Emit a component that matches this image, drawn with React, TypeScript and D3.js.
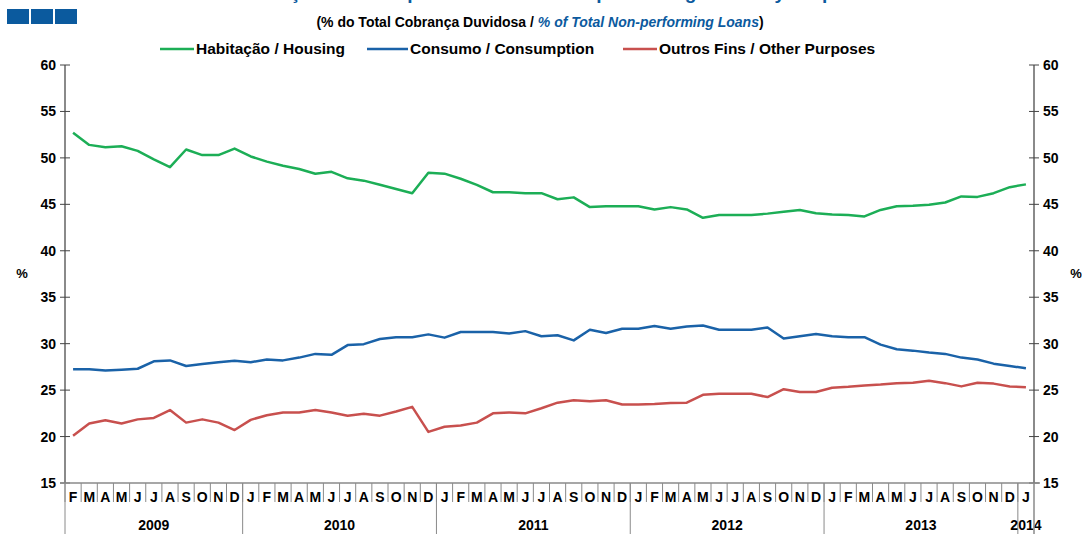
import * as d3 from "d3"

// month labels Feb 2009 .. Jan 2014
const months = [
  "F", "M", "A", "M", "J", "J", "A", "S", "O", "N", "D",
  "J", "F", "M", "A", "M", "J", "J", "A", "S", "O", "N", "D",
  "J", "F", "M", "A", "M", "J", "J", "A", "S", "O", "N", "D",
  "J", "F", "M", "A", "M", "J", "J", "A", "S", "O", "N", "D",
  "J", "F", "M", "A", "M", "J", "J", "A", "S", "O", "N", "D",
  "J",
]

// year groups: label, first index, last index
const years: [string, number, number][] = [
  ["2009", 0, 10],
  ["2010", 11, 22],
  ["2011", 23, 34],
  ["2012", 35, 46],
  ["2013", 47, 58],
  ["2014", 59, 59],
]

const housing = [
  52.7, 51.4, 51.15, 51.25, 50.75, 49.85, 49.0, 50.9, 50.3, 50.3, 51.0,
  50.15, 49.6, 49.15, 48.8, 48.3, 48.5, 47.8, 47.55, 47.1, 46.65, 46.2,
  48.4, 48.3, 47.75, 47.1, 46.3, 46.3, 46.2, 46.2, 45.55, 45.75, 44.7, 44.8,
  44.8, 44.8, 44.45, 44.7, 44.45, 43.55, 43.85, 43.85, 43.85, 44.0, 44.2,
  44.4, 44.05, 43.9, 43.85, 43.7, 44.4, 44.8, 44.85, 44.95, 45.2, 45.85,
  45.8, 46.2, 46.85, 47.15,
]

const consumption = [
  27.25, 27.25, 27.1, 27.2, 27.3, 28.1, 28.2, 27.6, 27.8, 28.0, 28.15,
  28.0, 28.3, 28.2, 28.5, 28.9, 28.8, 29.85, 29.95, 30.5, 30.7, 30.7,
  31.0, 30.65, 31.25, 31.25, 31.25, 31.1, 31.35, 30.8, 30.9, 30.35, 31.5,
  31.15, 31.6, 31.6, 31.9, 31.6, 31.85, 31.95, 31.5, 31.5, 31.5, 31.75,
  30.55, 30.8, 31.05, 30.8, 30.7, 30.7, 29.9, 29.4, 29.25, 29.05, 28.9,
  28.5, 28.3, 27.85, 27.6, 27.35,
]

const otherPurposes = [
  20.1, 21.4, 21.75, 21.4, 21.85, 22.0, 22.85, 21.5, 21.85, 21.5, 20.7,
  21.8, 22.3, 22.6, 22.6, 22.85, 22.6, 22.25, 22.45, 22.25, 22.7, 23.2,
  20.5, 21.05, 21.2, 21.5, 22.5, 22.6, 22.5, 23.05, 23.65, 23.9, 23.8,
  23.9, 23.45, 23.45, 23.5, 23.6, 23.65, 24.5, 24.6, 24.6, 24.6, 24.25,
  25.1, 24.8, 24.8, 25.25, 25.35, 25.5, 25.6, 25.75, 25.8, 26.0, 25.75,
  25.4, 25.8, 25.7, 25.4, 25.3,
]

const yTicks = [15, 20, 25, 30, 35, 40, 45, 50, 55, 60]

const series = [
  { name: "Habitação / Housing", values: housing, color: "#1cae56" },
  { name: "Consumo / Consumption", values: consumption, color: "#1a62a8" },
  { name: "Outros Fins / Other Purposes", values: otherPurposes, color: "#c8504e" },
]

const font = "'Liberation Sans', Arial, sans-serif"

export default function App() {
  const width = 1082
  const height = 534
  const left = 65
  const right = 1034
  const top = 65
  const bottom = 483

  const x = d3.scaleBand<number>().domain(d3.range(months.length)).range([left, right])
  const y = d3.scaleLinear().domain([15, 60]).range([bottom, top])
  const line = d3
    .line<number>()
    .x((_, i) => x(i)! + x.bandwidth() / 2)
    .y((d) => y(d))

  const legendPos = [
    { lx: 160, lw: 34 },
    { lx: 367, lw: 41 },
    { lx: 623, lw: 34 },
  ]

  return (
    <svg width={width} height={height} style={{ position: "absolute", left: 0, top: 0 }} fontFamily={font}>
      <rect width={width} height={height} fill="#fff" />

      {/* logo */}
      {[7, 31, 55].map((lx) => (
        <rect key={lx} x={lx} y={9} width={22} height={15} fill="#0b5a9e" />
      ))}

      {/* title, cut off at the top edge as in the source */}
      <text x={545} y={-1} textAnchor="middle" fontSize={19} fontWeight="bold" fill="#0b5a9e">
        Cobrança Duvidosa por Finalidade / Non-performing Loans by Purpose
      </text>

      {/* subtitle */}
      <text x={540} y={27} textAnchor="middle" fontSize={14} fontWeight="bold" fill="#000">
        (% do Total Cobrança Duvidosa  /{" "}
        <tspan fill="#0b5a9e" fontStyle="italic">% of Total Non-performing Loans</tspan>)
      </text>

      {/* legend */}
      {series.map((s, i) => (
        <g key={s.name}>
          <line
            x1={legendPos[i].lx}
            x2={legendPos[i].lx + legendPos[i].lw}
            y1={49}
            y2={49}
            stroke={s.color}
            strokeWidth={2.5}
          />
          <text x={legendPos[i].lx + legendPos[i].lw + 2} y={54} fontSize={15.5} fontWeight="bold" fill="#000">
            {s.name}
          </text>
        </g>
      ))}

      {/* y axes */}
      {[left, right].map((ax) => (
        <g key={ax}>
          <line x1={ax} x2={ax} y1={top} y2={bottom} stroke="#8a8a8a" strokeWidth={2} />
          {yTicks.map((t) => (
            <line key={t} x1={ax - 5} x2={ax + 5} y1={y(t)} y2={y(t)} stroke="#444" strokeWidth={1} />
          ))}
        </g>
      ))}
      {yTicks.map((t) => (
        <g key={t} fontSize={14} fontWeight="bold" fill="#000">
          <text x={56} y={y(t) + 5} textAnchor="end">{t}</text>
          <text x={1043} y={y(t) + 5}>{t}</text>
        </g>
      ))}
      <text x={22} y={278} textAnchor="middle" fontSize={13} fontWeight="bold">%</text>
      <text x={1076} y={278} textAnchor="middle" fontSize={13} fontWeight="bold">%</text>

      {/* x axis */}
      <line x1={left - 5} x2={right + 6} y1={bottom} y2={bottom} stroke="#8a8a8a" strokeWidth={1.5} />
      {months.map((m, i) => (
        <g key={i}>
          <line x1={x(i)!} x2={x(i)!} y1={bottom} y2={502} stroke="#8a8a8a" strokeWidth={1} />
          <text
            x={x(i)! + x.bandwidth() / 2}
            y={502}
            textAnchor="middle"
            fontSize={14}
            fontWeight="bold"
          >
            {m}
          </text>
        </g>
      ))}
      {years.map(([label, a, b]) => (
        <g key={label}>
          <line x1={x(a)!} x2={x(a)!} y1={bottom} y2={height} stroke="#8a8a8a" strokeWidth={1} />
          <text
            x={(x(a)! + x(b)! + x.bandwidth()) / 2}
            y={530}
            textAnchor="middle"
            fontSize={14}
            fontWeight="bold"
          >
            {label}
          </text>
        </g>
      ))}
      <line x1={right} x2={right} y1={bottom} y2={height} stroke="#8a8a8a" strokeWidth={1.5} />

      {/* series */}
      {series.map((s) => (
        <path key={s.name} d={line(s.values)!} fill="none" stroke={s.color} strokeWidth={2.5} strokeLinejoin="round" />
      ))}
    </svg>
  )
}
